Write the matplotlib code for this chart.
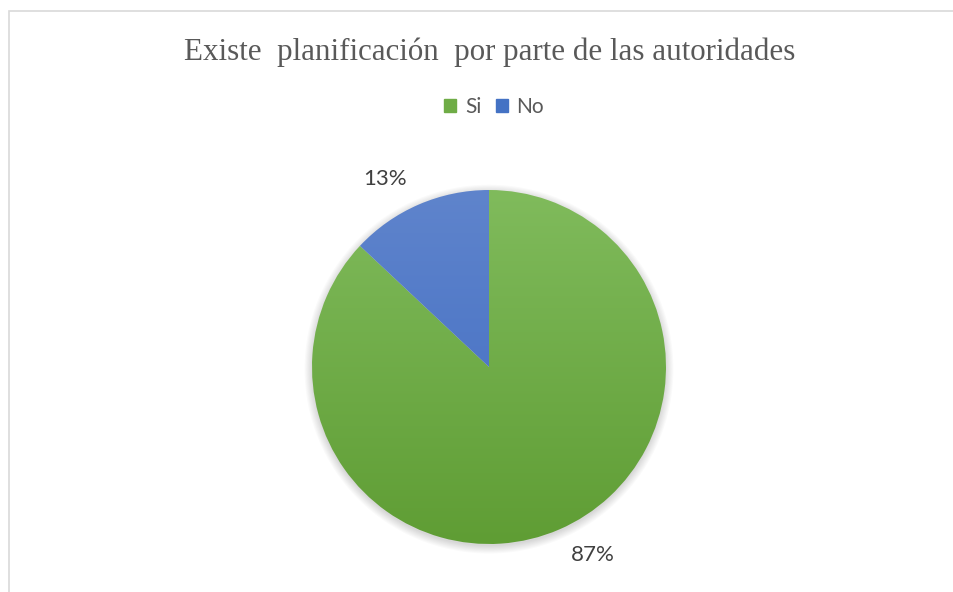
import matplotlib.pyplot as plt
import numpy as np
from matplotlib.colors import LinearSegmentedColormap
from matplotlib.patches import Rectangle, Circle

categories = ["Si", "No"]
values = [87, 13]
title = "Existe  planificación  por parte de las autoridades"

# gradient colours (top -> bottom) per slice, Excel style
grad = {"Si": ("#80bb5c", "#5f9d34"), "No": ("#5f84cc", "#3e6bc2")}
legend_colors = {"Si": "#6fac46", "No": "#4472c4"}

W, H = 954, 592
fig = plt.figure(figsize=(W / 100, H / 100), dpi=100)

# chart border (light gray), open to the right/bottom as in the picture
fig.patches.append(Rectangle((9.5 / W, -0.1), 1.2, (H - 11.0) / H + 0.1,
                             transform=fig.transFigure, fill=False,
                             edgecolor="#d9d9d9", linewidth=1.2))

cx, cy, r = 489, 367, 177
lim = 1.25
side = 2 * lim * r
ax = fig.add_axes([(cx - side / 2) / W, (H - cy - side / 2) / H, side / W, side / H])

# soft shadow under the pie
for k in range(8):
    ax.add_patch(Circle((0, -0.012), 1 + 0.006 * k, color="black",
                        alpha=0.018, lw=0, zorder=0))

wedges, texts, autotexts = ax.pie(
    values, labels=None, startangle=90, counterclock=False,
    autopct="%1.0f%%", pctdistance=1.2,
    wedgeprops=dict(linewidth=0),
    textprops=dict(fontsize=16, color="#404040", family="Lato"))

# Excel's best-fit labels sit a little counter-clockwise of the slice middle
for w, t in zip(wedges, autotexts):
    ang = np.deg2rad((w.theta1 + w.theta2) / 2 + 5.5)
    t.set_position((1.215 * np.cos(ang), 1.215 * np.sin(ang)))

gy = np.linspace(0, 1, 256).reshape(-1, 1)
for w, cat in zip(wedges, categories):
    w.set_facecolor("none")
    cmap = LinearSegmentedColormap.from_list(cat, [grad[cat][1], grad[cat][0]])
    im = ax.imshow(gy, cmap=cmap, extent=[-1, 1, -1, 1], origin="lower",
                   aspect="auto", zorder=1, interpolation="bicubic")
    im.set_clip_path(w)

ax.set_xlim(-lim, lim)
ax.set_ylim(-lim, lim)
ax.set_aspect("equal")
ax.axis("off")

fig.text(489.5 / W, 1 - 52 / H, title, ha="center", va="center",
         fontsize=22.3, color="#595959", family="Liberation Serif")

handles = [Rectangle((0, 0), 1, 1, color=legend_colors[c]) for c in categories]
fig.legend(handles, categories, loc="center", bbox_to_anchor=(494 / W, 1 - 107 / H),
           ncol=2, frameon=False, handlelength=0.6, handleheight=0.6,
           handletextpad=0.4, columnspacing=0.7,
           prop=dict(family="Lato", size=15), labelcolor="#595959")

fig.savefig("out.png", dpi=100)
